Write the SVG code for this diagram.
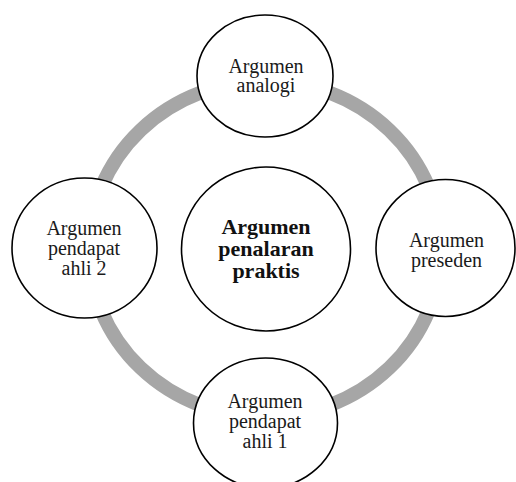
<svg xmlns="http://www.w3.org/2000/svg" width="516" height="482" viewBox="0 0 516 482">
<style>
.node{fill:#ffffff;stroke:#000000;stroke-width:1.6}
.ring{fill:none;stroke:#a6a6a6;stroke-width:14}
.t{font-family:"Liberation Serif","Times New Roman",serif;font-size:20px;fill:#1a1a1a;text-anchor:middle}
.b{font-family:"Liberation Serif","Times New Roman",serif;font-size:22px;font-weight:bold;fill:#111111;text-anchor:middle}
</style>
<rect width="516" height="482" fill="#ffffff"/>
<g id="connectors">
<ellipse class="ring" cx="265" cy="249" rx="176" ry="168"/>
</g>
<g id="center">
<ellipse class="node" cx="266" cy="249" rx="84.5" ry="82"/>
<text class="b" x="266" y="234">Argumen</text>
<text class="b" x="266" y="256">penalaran</text>
<text class="b" x="266" y="278">praktis</text>
</g>
<g id="analogi">
<ellipse class="node" cx="265" cy="76" rx="68" ry="61"/>
<text class="t" x="266" y="72.5">Argumen</text>
<text class="t" x="266" y="92">analogi</text>
</g>
<g id="preseden">
<ellipse class="node" cx="445.5" cy="248" rx="69.5" ry="68.5"/>
<text class="t" x="446.5" y="246.5">Argumen</text>
<text class="t" x="446.5" y="266.5">preseden</text>
</g>
<g id="ahli1">
<ellipse class="node" cx="265.5" cy="423" rx="72" ry="65"/>
<text class="t" x="265" y="408">Argumen</text>
<text class="t" x="265" y="428">pendapat</text>
<text class="t" x="265" y="448">ahli 1</text>
</g>
<g id="ahli2">
<ellipse class="node" cx="84.5" cy="248" rx="72.5" ry="70"/>
<text class="t" x="84" y="235">Argumen</text>
<text class="t" x="84" y="255">pendapat</text>
<text class="t" x="84" y="275">ahli 2</text>
</g>
</svg>
